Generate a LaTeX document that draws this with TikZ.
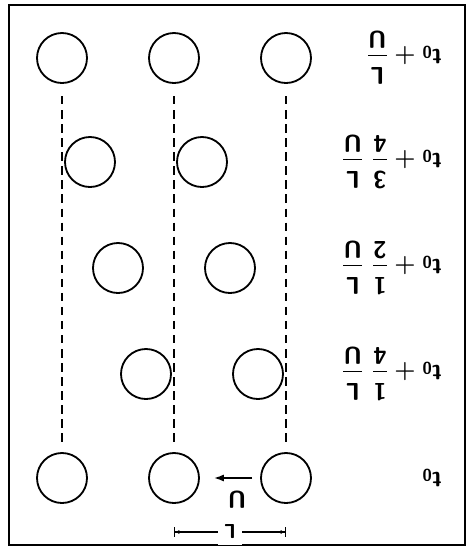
\documentclass[tikz,border=0pt]{standalone}
\usepackage{amsmath}
\usetikzlibrary{arrows.meta}
\tikzset{
  ball/.style={circle, draw, line width=1.3pt, fill=white, minimum size=1.25cm, inner sep=0pt},
  track/.style={line width=1pt, dash pattern=on 6pt off 4pt},
  lbl/.style={rotate=180, anchor=west, font=\LARGE\boldmath, inner sep=0pt},
}
\begin{document}
\begin{tikzpicture}[x=0.025cm, y=-0.025cm]
  \useasboundingbox (0,0) rectangle (473,549);
  \draw[line width=1.2pt] (9,5) rectangle (465,545);
  % the three tracks
  \foreach \x/\n in {62/a, 174/b, 286/c} {
    \coordinate (top\n) at (\x,96);
    \coordinate (bot\n) at (\x,446);
    \draw[track] (top\n) -- (bot\n);
  }
  % circles, one row per time
  \node[ball] (a0) at (62,478) {};
  \node[ball] (b0) at (174,478) {};
  \node[ball] (c0) at (286,478) {};
  \node[ball] (b1) at (146,374) {};
  \node[ball] (c1) at (258,374) {};
  \node[ball] (b2) at (118,268) {};
  \node[ball] (c2) at (230,268) {};
  \node[ball] (b3) at (90,162) {};
  \node[ball] (c3) at (202,162) {};
  \node[ball] (a4) at (62,58) {};
  \node[ball] (b4) at (174,58) {};
  \node[ball] (c4) at (286,58) {};
  % times (printed upside down)
  \node[lbl] (t0) at (442,478) {$\mathsf{t_0}$};
  \node[lbl] (t1) at (442,374) {$\mathsf{t_0} + \dfrac{\mathsf{1}}{\mathsf{4}}\;\dfrac{\mathsf{L}}{\mathsf{U}}$};
  \node[lbl] (t2) at (442,268) {$\mathsf{t_0} + \dfrac{\mathsf{1}}{\mathsf{2}}\;\dfrac{\mathsf{L}}{\mathsf{U}}$};
  \node[lbl] (t3) at (442,162) {$\mathsf{t_0} + \dfrac{\mathsf{3}}{\mathsf{4}}\;\dfrac{\mathsf{L}}{\mathsf{U}}$};
  \node[lbl] (t4) at (442,58) {$\mathsf{t_0} + \dfrac{\mathsf{L}}{\mathsf{U}}$};
  % velocity
  \coordinate (ua) at (252,478);
  \coordinate (ub) at (214,478);
  \draw[line width=1.1pt, -{Latex[length=7pt, width=5pt]}] (ua) -- (ub);
  \node[lbl, anchor=center] (ulbl) at (237,500) {$\mathsf{U}$};
  % spacing
  \coordinate (dl) at (174,532);
  \coordinate (dr) at (286,532);
  \draw[line width=0.8pt, {Bar[width=7pt]Latex[length=3pt, width=3pt]}-{Latex[length=3pt, width=3pt]Bar[width=7pt]}] (dl) -- (dr)
    node[midway, fill=white, rotate=180, font=\Large\boldmath, inner sep=4pt] (llbl) {$\mathsf{L}$};
\end{tikzpicture}
\end{document}
